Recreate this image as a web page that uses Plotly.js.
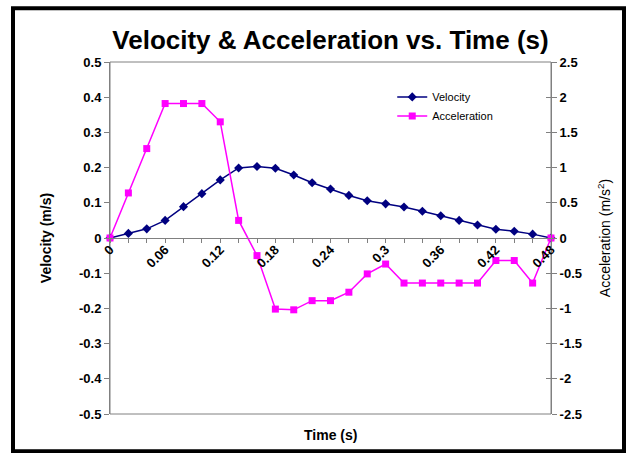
<!DOCTYPE html>
<html>
<head>
<meta charset="utf-8">
<script src="https://cdn.plot.ly/plotly-3.0.1.min.js"></script>
<style>
  html, body { margin: 0; padding: 0; background: #ffffff; }
  #chart { width: 630px; height: 453px; }
</style>
</head>
<body>
<div id="chart"></div>
<script>
// Sample times (s)
const times = [0, 0.02, 0.04, 0.06, 0.08, 0.10, 0.12, 0.14, 0.16, 0.18, 0.20, 0.22,
               0.24, 0.26, 0.28, 0.30, 0.32, 0.34, 0.36, 0.38, 0.40, 0.42, 0.44, 0.46, 0.48];
// Time-axis labels, one per sample (only every third one is printed)
const timeLabels = ['0', '', '', '0.06', '', '', '0.12', '', '', '0.18', '', '', '0.24',
                    '', '', '0.3', '', '', '0.36', '', '', '0.42', '', '', '0.48'];

// Velocity (m/s)
const velocity = [0, 0.013, 0.026, 0.050, 0.089, 0.126, 0.165, 0.199, 0.203, 0.198, 0.179, 0.157,
                  0.139, 0.121, 0.106, 0.097, 0.088, 0.076, 0.063, 0.050, 0.037, 0.025, 0.019, 0.011, 0];
// Acceleration (m/s^2)
const acceleration = [0, 0.64, 1.27, 1.91, 1.91, 1.91, 1.65, 0.25, -0.25, -1.01, -1.02, -0.89,
                      -0.89, -0.77, -0.51, -0.37, -0.64, -0.64, -0.64, -0.64, -0.64, -0.32, -0.32, -0.64, 0];

// Axis tick values and labels
const velTicks = [0.5, 0.4, 0.3, 0.2, 0.1, 0, -0.1, -0.2, -0.3, -0.4, -0.5];
const velTickText = ['0.5', '0.4', '0.3', '0.2', '0.1', '0', '-0.1', '-0.2', '-0.3', '-0.4', '-0.5'];
const accTicks = [2.5, 2, 1.5, 1, 0.5, 0, -0.5, -1, -1.5, -2, -2.5];
const accTickText = ['2.5', '2', '1.5', '1', '0.5', '0', '-0.5', '-1', '-1.5', '-2', '-2.5'];

const FONT = 'Arial, "Liberation Sans", sans-serif';
const GRAY = '#808080';

const traces = [
  {
    x: times, y: velocity, name: 'Velocity', type: 'scatter', mode: 'lines+markers',
    line: { color: '#000080', width: 1.5 },
    marker: { symbol: 'diamond', size: 7, color: '#000080' },
    cliponaxis: false, xaxis: 'x', yaxis: 'y'
  },
  {
    x: times, y: acceleration, name: 'Acceleration', type: 'scatter', mode: 'lines+markers',
    line: { color: '#FF00FF', width: 1.5 },
    marker: { symbol: 'square', size: 7, color: '#FF00FF' },
    cliponaxis: false, xaxis: 'x', yaxis: 'y2'
  }
];

const layout = {
  width: 630, height: 453,
  margin: { l: 110, r: 79, t: 62, b: 39 },
  paper_bgcolor: '#ffffff', plot_bgcolor: '#ffffff',
  font: { family: FONT, color: '#000000' },
  showlegend: true,
  legend: {
    x: 0.64, y: 0.942, xanchor: 'left', yanchor: 'top',
    bgcolor: 'rgba(0,0,0,0)', font: { family: FONT, size: 11 },
    tracegroupgap: 0
  },
  title: {
    text: '<b>Velocity & Acceleration vs. Time (s)</b>',
    font: { family: FONT, size: 26, color: '#000000' },
    x: 0.5, xref: 'paper', xanchor: 'center',
    y: 1 - 40 / 453, yref: 'container', yanchor: 'middle'
  },
  xaxis: {
    range: [0, 0.48], anchor: 'free', position: 0.5,
    showline: true, linecolor: GRAY, linewidth: 1,
    showgrid: false, zeroline: false,
    ticks: 'outside', ticklen: 4, tickcolor: GRAY,
    tickmode: 'array', tickvals: times, ticktext: timeLabels,
    ticklabelstandoff: -6,
    tickangle: -45, tickfont: { family: FONT, size: 13, weight: 'bold' }
  },
  yaxis: {
    range: [-0.5, 0.5], showline: true, linecolor: GRAY, linewidth: 1,
    showgrid: false, zeroline: false,
    ticks: 'outside', ticklen: 5, tickcolor: GRAY,
    tickmode: 'array', tickvals: velTicks, ticktext: velTickText,
    tickfont: { family: FONT, size: 13, weight: 'bold' },
    title: { text: '<b>Velocity (m/s)</b>', font: { family: FONT, size: 14 }, standoff: 24 }
  },
  yaxis2: {
    range: [-2.5, 2.5], overlaying: 'y', side: 'right', anchor: 'x',
    showline: true, linecolor: GRAY, linewidth: 1,
    showgrid: false, zeroline: false,
    ticks: 'outside', ticklen: 5, tickcolor: GRAY,
    tickmode: 'array', tickvals: accTicks, ticktext: accTickText,
    tickfont: { family: FONT, size: 13, weight: 'bold' },
    title: { text: 'Acceleration (m/s<sup>2</sup>)', font: { family: FONT, size: 14 }, standoff: 19 }
  },
  // inner half of the crossing tick marks on the right axis
  yaxis3: {
    range: [-2.5, 2.5], overlaying: 'y', side: 'right', anchor: 'x',
    showline: false, showgrid: false, zeroline: false,
    ticks: 'inside', ticklen: 5, tickcolor: GRAY,
    tickmode: 'array', tickvals: accTicks, showticklabels: false
  },
  annotations: [
    {
      text: '<b>Time (s)</b>', xref: 'paper', yref: 'paper',
      x: 0.5, y: (413.7 - 435) / 352, xanchor: 'center', yanchor: 'middle',
      showarrow: false, font: { family: FONT, size: 14 }
    }
  ],
  shapes: [
    // plot-area box
    { type: 'rect', xref: 'paper', yref: 'paper', x0: 0, x1: 1, y0: 0, y1: 1,
      line: { color: GRAY, width: 1 }, layer: 'below' },
    // outer chart frame
    { type: 'rect', xref: 'paper', yref: 'paper',
      x0: (13 - 110) / 441, x1: (624 - 110) / 441,
      y0: (413.7 - 451) / 352, y1: (413.7 - 8) / 352,
      line: { color: '#000000', width: 4 } }
  ]
};

// dummy trace so the inner-tick axis gets drawn
traces.push({ x: [0], y: [0], xaxis: 'x', yaxis: 'y3', mode: 'markers',
              marker: { opacity: 0 }, showlegend: false, hoverinfo: 'skip' });

Plotly.newPlot('chart', traces, layout, { displayModeBar: false, staticPlot: true });
</script>
</body>
</html>
